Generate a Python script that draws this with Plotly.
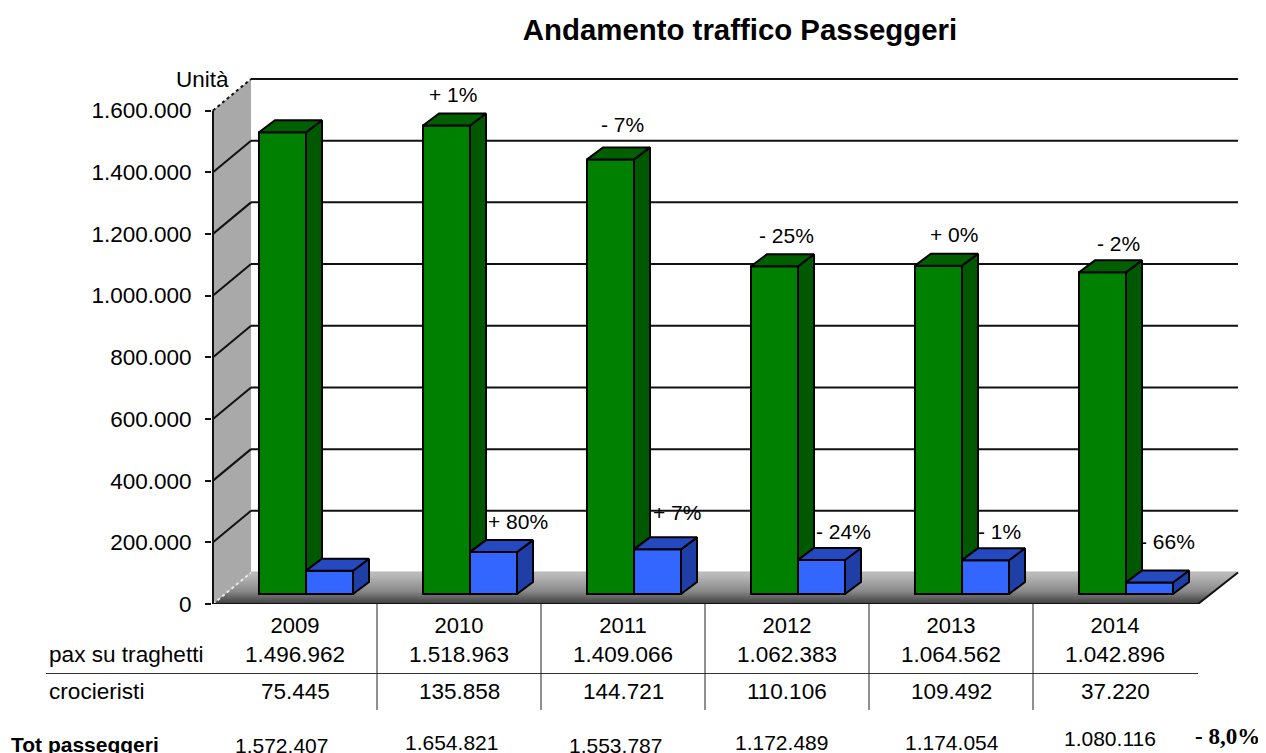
import plotly.graph_objects as go

YEARS = ["2009", "2010", "2011", "2012", "2013", "2014"]
TRAGHETTI = [1496962, 1518963, 1409066, 1062383, 1064562, 1042896]
CROCIERISTI = [75445, 135858, 144721, 110106, 109492, 37220]
TOTALE = [1572407, 1654821, 1553787, 1172489, 1174054, 1080116]
TICKS = [0, 200000, 400000, 600000, 800000, 1000000, 1200000, 1400000, 1600000]
PCT_TRAGHETTI = ["", "+ 1%", "- 7%", "- 25%", "+ 0%", "- 2%"]
PCT_CROCIERISTI = ["", "+ 80%", "+ 7%", "- 24%", "- 1%", "- 66%"]
TITLE = "Andamento traffico Passeggeri"
TOTAL_CHANGE = "- 8,0%"

# layout geometry (page pixels), kept apart from the data
W, H = 1266, 753
PAGE = 8                     # the page's own margin around the figure
L, R, T, B = 212, 20, 60, 149
Y0 = 604
PX_PER_UNIT = 164
K = 1600000 / 493.5          # value per vertical pixel
X0 = 295                     # pixel of the first category label


def fx(px):
    return (px - X0) / PX_PER_UNIT


def dx(px):
    return px / PX_PER_UNIT


def dy(px):
    return px * K


def pap(py):
    return (Y0 - py) / (H - T - B)


def papx(px):
    return (px - L) / (W - R - L)


def dots(v):
    return f"{v:,}".replace(",", ".")


BAR_L = dx(-36)
BAR_W = dx(47)
BASE = dy(10)
DEPTH_X = dx(16)
DEPTH_Y = dy(12)
BACK_X = 38
BACK_Y = 31.5
FONT = "Liberation Sans, Arial, sans-serif"
GREEN, GREEN_SIDE, GREEN_TOP = "#008000", "#005800", "#006000"
BLUE, BLUE_SIDE, BLUE_TOP = "#3366ff", "#1f3fa6", "#2549c0"
EDGE = 2

fig = go.Figure()

xl, xb, xr, xrb = fx(213), fx(213 + BACK_X), fx(1238), fx(1198)
top = TICKS[-1]

# left wall
fig.add_trace(go.Scatter(
    x=[xl, xb, xb, xl, xl],
    y=[0, dy(BACK_Y), top + dy(BACK_Y), top, 0],
    mode="lines", line=dict(width=0), fill="toself", fillcolor="#a9a9a9",
    hoverinfo="skip", showlegend=False, cliponaxis=False))
# floor
fig.add_trace(go.Scatter(
    x=[xl, xb, xr, xrb, xl],
    y=[0, dy(BACK_Y), dy(BACK_Y), 0, 0],
    mode="lines", line=dict(width=0), fill="toself",
    fillgradient=dict(type="vertical",
                      colorscale=[[0, "#3c3c3c"], [0.4, "#888888"], [1, "#c0c0c0"]]),
    hoverinfo="skip", showlegend=False, cliponaxis=False))
# gridlines on the back and side walls
for v in TICKS:
    dash = "dot" if v in (0, top) else "solid"
    fig.add_trace(go.Scatter(
        x=[xl, xb], y=[v, v + dy(BACK_Y)], mode="lines",
        line=dict(color="#111111" if v else "#e8e8e8", width=EDGE, dash=dash),
        hoverinfo="skip", showlegend=False, cliponaxis=False))
    fig.add_trace(go.Scatter(
        x=[xb, xr], y=[v + dy(BACK_Y), v + dy(BACK_Y)], mode="lines",
        line=dict(color="#b8b8b8" if v == 0 else "#111111", width=EDGE),
        hoverinfo="skip", showlegend=False, cliponaxis=False))
# axis and front edge of the floor
fig.add_trace(go.Scatter(
    x=[xl, xl, xrb, xr], y=[top, 0, 0, dy(BACK_Y)], mode="lines",
    line=dict(color="#111111", width=2),
    hoverinfo="skip", showlegend=False, cliponaxis=False))

idx = list(range(len(YEARS)))
# front faces
fig.add_trace(go.Bar(
    x=idx, y=TRAGHETTI, base=BASE, width=BAR_W, offset=BAR_L, xaxis="x2", yaxis="y2",
    marker=dict(color=GREEN, line=dict(color="#000000", width=EDGE)),
    name="pax su traghetti", showlegend=False))
fig.add_trace(go.Bar(
    x=idx, y=CROCIERISTI, base=BASE, width=BAR_W, offset=BAR_L + BAR_W, xaxis="x2", yaxis="y2",
    marker=dict(color=BLUE, line=dict(color="#000000", width=EDGE)),
    name="crocieristi", showlegend=False))


def face(xs, ys, color):
    fig.add_trace(go.Scatter(
        x=xs + xs[:1], y=ys + ys[:1], mode="lines", fill="toself", fillcolor=color,
        line=dict(color="#000000", width=EDGE), xaxis="x2", yaxis="y2",
        hoverinfo="skip", showlegend=False, cliponaxis=False))


for i in idx:
    g, b = TRAGHETTI[i], CROCIERISTI[i]
    a = i + BAR_L
    m = a + BAR_W
    e = m + BAR_W
    # green side (down to the top of the blue box) and top
    face([m, m + DEPTH_X, m + DEPTH_X, m],
         [BASE + g, BASE + g + DEPTH_Y, BASE + b + DEPTH_Y, BASE + b], GREEN_SIDE)
    face([a, a + DEPTH_X, m + DEPTH_X, m],
         [BASE + g, BASE + g + DEPTH_Y, BASE + g + DEPTH_Y, BASE + g], GREEN_TOP)
    # blue side and top
    face([e, e + DEPTH_X, e + DEPTH_X, e],
         [BASE + b, BASE + b + DEPTH_Y, BASE + DEPTH_Y, BASE], BLUE_SIDE)
    face([m, m + DEPTH_X, e + DEPTH_X, e],
         [BASE + b, BASE + b + DEPTH_Y, BASE + b + DEPTH_Y, BASE + b], BLUE_TOP)

ann = []


def text(x, y, s, size=22.5, xref="x", yref="paper", xanchor="center", family=FONT, bold=False):
    ann.append(dict(x=x, y=y, text=f"<b>{s}</b>" if bold else s, xref=xref, yref=yref,
                    showarrow=False, xanchor=xanchor, yanchor="middle",
                    font=dict(size=size, color="#000000", family=family)))


# pixel nudges of the percentage labels from the top of each bar
G_DX = [0, 30, 35, 35, 39, 39]
G_DY = [0, 31, 35, 31, 31, 29]
B_DX = [0, 48, 43, 45, 37, 41]
B_DY = [0, 31, 37, 29, 29, 41]

for i in idx:
    if PCT_TRAGHETTI[i]:
        text(i + BAR_L + dx(G_DX[i]), BASE + TRAGHETTI[i] + dy(G_DY[i]), PCT_TRAGHETTI[i],
             size=21, yref="y")
    if PCT_CROCIERISTI[i]:
        text(i + BAR_L + BAR_W + dx(B_DX[i]), BASE + CROCIERISTI[i] + dy(B_DY[i]),
             PCT_CROCIERISTI[i], size=21, yref="y")
    text(i, pap(654.5), dots(TRAGHETTI[i]))
    text(i, pap(691), dots(CROCIERISTI[i]))

TOT_X = [281, 451, 615, 781, 952, 1110]
TOT_Y = [745, 743, 745, 743, 743, 738]
for i in idx:
    text(papx(TOT_X[i]), pap(TOT_Y[i]), dots(TOTALE[i]), size=21, xref="paper")

text(papx(47), pap(654.5), "pax su traghetti", xref="paper", xanchor="left", size=22.6)
text(papx(47), pap(691), "crocieristi", xref="paper", xanchor="left", size=22.6)
text(papx(9), pap(744), "Tot passeggeri", xref="paper", size=21, xanchor="left", bold=True)
text(papx(1193), pap(736), TOTAL_CHANGE, xref="paper", size=23, xanchor="left", bold=True,
     family="Liberation Serif, Times New Roman, serif")
text(papx(174), pap(79), "Unità", xref="paper", size=22.5, xanchor="left")

# table rules
shapes = [dict(type="line", xref="paper", yref="paper", x0=papx(46), x1=papx(1198),
               y0=pap(673.5), y1=pap(673.5), line=dict(color="#333333", width=1))]
for i in idx[:-1]:
    shapes.append(dict(type="line", xref="x", yref="paper", x0=i + 0.5, x1=i + 0.5,
                       y0=pap(604), y1=pap(710), line=dict(color="#222222", width=1)))

xrange = [fx(L), fx(W - R)]
yrange = [0, dy(H - T - B)]
fig.update_layout(
    width=W - PAGE, height=H - PAGE, autosize=False,
    margin=dict(l=L - PAGE, r=R, t=T - PAGE, b=B, pad=0),
    paper_bgcolor="#ffffff", plot_bgcolor="#ffffff",
    separators=",.",
    barmode="overlay", showlegend=False,
    title=dict(text=f"<b>{TITLE}</b>", x=(740 - PAGE) / (W - PAGE), xanchor="center",
               y=1 - (30 - PAGE) / (H - PAGE), yanchor="middle",
               font=dict(family=FONT, size=29.4, color="#000000")),
    font=dict(family=FONT, color="#000000"),
    xaxis=dict(range=xrange, tickvals=idx, ticktext=YEARS, ticks="", showgrid=False,
               zeroline=False, showline=False, ticklabelstandoff=6,
               tickfont=dict(size=22, family=FONT, color="#000000"), fixedrange=True),
    yaxis=dict(range=yrange, tickvals=TICKS, tickformat=",d", ticks="outside", ticklen=6,
               tickcolor="#111111", tickwidth=1.5, showgrid=False, zeroline=False,
               showline=False, ticklabelstandoff=9,
               tickfont=dict(size=22.5, family=FONT, color="#000000"),
               fixedrange=True),
    xaxis2=dict(range=xrange, overlaying="x", visible=False, fixedrange=True),
    yaxis2=dict(range=yrange, overlaying="y", visible=False, fixedrange=True),
    annotations=ann, shapes=shapes,
)
fig.write_html("out.html")
